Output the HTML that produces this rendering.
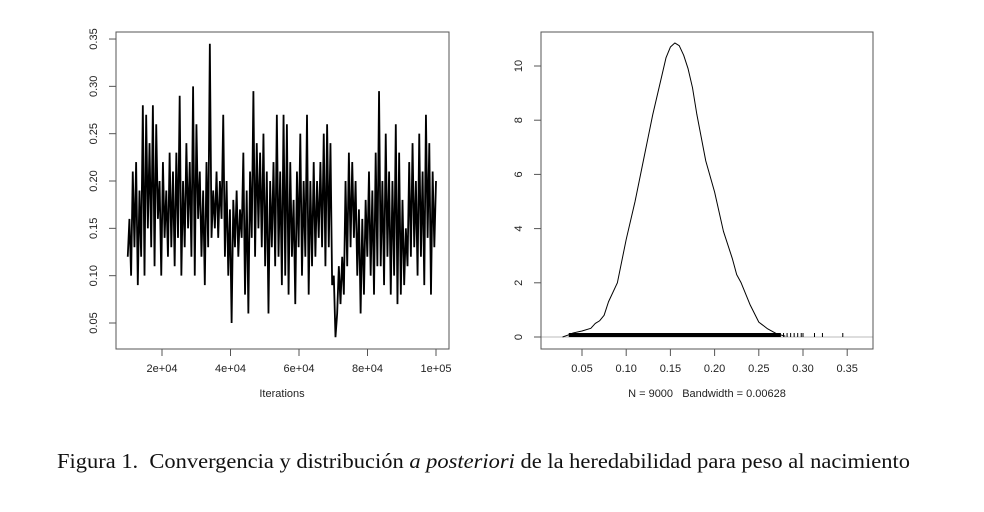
<!DOCTYPE html>
<html><head><meta charset="utf-8"><style>
body{margin:0;background:#fff;width:984px;height:507px;overflow:hidden}
svg text{font-family:"Liberation Sans",sans-serif;fill:#222}
svg text.cap{font-family:"Liberation Serif",serif;font-size:21px;fill:#111}
</style></head><body>
<svg width="984" height="507">
<g id="left"></g>
<g id="right"></g>
<text class="cap" x="57" y="468" textLength="853" lengthAdjust="spacingAndGlyphs">Figura 1.&#160;&#160;Convergencia y distribución <tspan font-style="italic">a posteriori</tspan> de la heredabilidad para peso al nacimiento</text>
</svg>
<script>
const traceStart=10000, traceEnd=100000;
const traceValues=[0.12,0.16,0.10,0.21,0.13,0.22,0.09,0.19,0.12,0.28,0.10,0.27,0.15,0.24,0.13,0.28,0.11,0.26,0.16,0.20,0.10,0.22,0.14,0.19,0.12,0.23,0.13,0.21,0.11,0.23,0.14,0.29,0.10,0.20,0.13,0.24,0.15,0.22,0.12,0.30,0.10,0.26,0.16,0.21,0.12,0.19,0.09,0.22,0.13,0.345,0.14,0.19,0.15,0.21,0.14,0.20,0.16,0.27,0.12,0.20,0.10,0.17,0.05,0.18,0.13,0.19,0.12,0.17,0.14,0.23,0.08,0.19,0.06,0.21,0.14,0.295,0.12,0.24,0.15,0.23,0.13,0.25,0.11,0.21,0.06,0.20,0.13,0.22,0.11,0.27,0.12,0.21,0.09,0.27,0.10,0.26,0.08,0.22,0.12,0.18,0.07,0.21,0.13,0.25,0.10,0.20,0.12,0.27,0.08,0.20,0.11,0.22,0.12,0.20,0.14,0.22,0.13,0.25,0.11,0.26,0.13,0.24,0.09,0.10,0.035,0.06,0.11,0.07,0.12,0.08,0.20,0.11,0.23,0.13,0.22,0.14,0.20,0.10,0.17,0.06,0.16,0.08,0.18,0.12,0.21,0.10,0.19,0.08,0.23,0.11,0.295,0.11,0.20,0.09,0.25,0.12,0.21,0.08,0.20,0.10,0.26,0.07,0.23,0.08,0.18,0.09,0.15,0.11,0.22,0.12,0.24,0.13,0.20,0.10,0.25,0.12,0.21,0.09,0.27,0.14,0.24,0.08,0.21,0.13,0.20];
const traceYTicks=[0.05,0.10,0.15,0.20,0.25,0.30,0.35];
const traceXTicks=[20000,40000,60000,80000,100000];
const traceXLabels=["2e+04","4e+04","6e+04","8e+04","1e+05"];
const densX=[0.028,0.035,0.04,0.05,0.06,0.065,0.07,0.075,0.08,0.09,0.10,0.11,0.12,0.125,0.13,0.14,0.145,0.15,0.155,0.16,0.165,0.17,0.175,0.18,0.19,0.20,0.21,0.22,0.225,0.23,0.24,0.25,0.26,0.27,0.28];
const densY=[0.0,0.08,0.15,0.22,0.32,0.5,0.6,0.8,1.3,2.0,3.6,5.0,6.6,7.4,8.2,9.6,10.3,10.7,10.85,10.75,10.4,9.9,9.2,8.2,6.5,5.35,3.9,2.9,2.3,2.0,1.2,0.55,0.3,0.12,0.03];
const densXTicks=[0.05,0.10,0.15,0.20,0.25,0.30,0.35];
const densYTicks=[0,2,4,6,8,10];
const rugExtra=[0.278,0.282,0.286,0.29,0.294,0.298,0.30,0.313,0.322,0.345];
const rugMin=0.035, rugMax=0.275;

const NS="http://www.w3.org/2000/svg";
function mk(p,t,a){const e=document.createElementNS(NS,t);for(const k in a)e.setAttribute(k,a[k]);p.appendChild(e);return e;}
const traceStep=(traceEnd-traceStart)/(traceValues.length-1);
// left
const L=document.getElementById('left');
const lx=v=>162+(v-20000)/20000*68.5, ly=v=>323-(v-0.05)/0.05*47.33;
let e=mk(L,'rect',{x:116,y:32,width:333,height:317,fill:'none',stroke:'#555'});

e=mk(L,'polyline',{points:traceValues.map((v,i)=>lx(traceStart+i*traceStep)+','+ly(v)).join(' '),fill:'none',stroke:'#000','stroke-width':1.8});

traceYTicks.forEach(t=>{const y=ly(t);
e=mk(L,'line',{x1:109,x2:116,y1:y,y2:y,stroke:'#555'});
e=mk(L,'text',{x:0,y:0,transform:`translate(97,${y}) rotate(-90)`,'text-anchor':'middle','font-size':11});e.textContent=t.toFixed(2);
});
traceXTicks.forEach((t,i)=>{const x=lx(t);
e=mk(L,'line',{x1:x,x2:x,y1:349,y2:356,stroke:'#555'});
e=mk(L,'text',{x:x,y:372,'text-anchor':'middle','font-size':11});e.textContent=traceXLabels[i];
});
e=mk(L,'text',{x:282,y:397,'text-anchor':'middle','font-size':11});e.textContent='Iterations';

// right
const R=document.getElementById('right');
const rx=v=>582+(v-0.05)/0.05*44.2, ry=v=>337-v*27.1;
e=mk(R,'line',{x1:541,x2:873,y1:ry(0),y2:ry(0),stroke:'#bbb'});
e=mk(R,'rect',{x:541,y:32,width:332,height:317,fill:'none',stroke:'#555'});

e=mk(R,'polyline',{points:densX.map((v,i)=>rx(v)+','+ry(densY[i])).join(' '),fill:'none',stroke:'#000','stroke-width':1,'stroke-linejoin':'round'});

e=mk(R,'rect',{x:rx(rugMin),y:ry(0)-4,width:rx(rugMax)-rx(rugMin),height:4,fill:'#000'});

rugExtra.forEach(v=>{e=mk(R,'line',{x1:rx(v),x2:rx(v),y1:ry(0)-4,y2:ry(0),stroke:'#000'});
});
densYTicks.forEach(t=>{const y=ry(t);
e=mk(R,'line',{x1:534,x2:541,y1:y,y2:y,stroke:'#555'});
e=mk(R,'text',{x:0,y:0,transform:`translate(522,${y}) rotate(-90)`,'text-anchor':'middle','font-size':11});e.textContent=String(t);
});
densXTicks.forEach(t=>{const x=rx(t);
e=mk(R,'line',{x1:x,x2:x,y1:349,y2:356,stroke:'#555'});
e=mk(R,'text',{x:x,y:372,'text-anchor':'middle','font-size':11});e.textContent=t.toFixed(2);
});
e=mk(R,'text',{x:707,y:397,'text-anchor':'middle','font-size':11,'xml:space':'preserve'});e.textContent='N = 9000\u00a0\u00a0\u00a0Bandwidth = 0.00628';

</script>
</body></html>
